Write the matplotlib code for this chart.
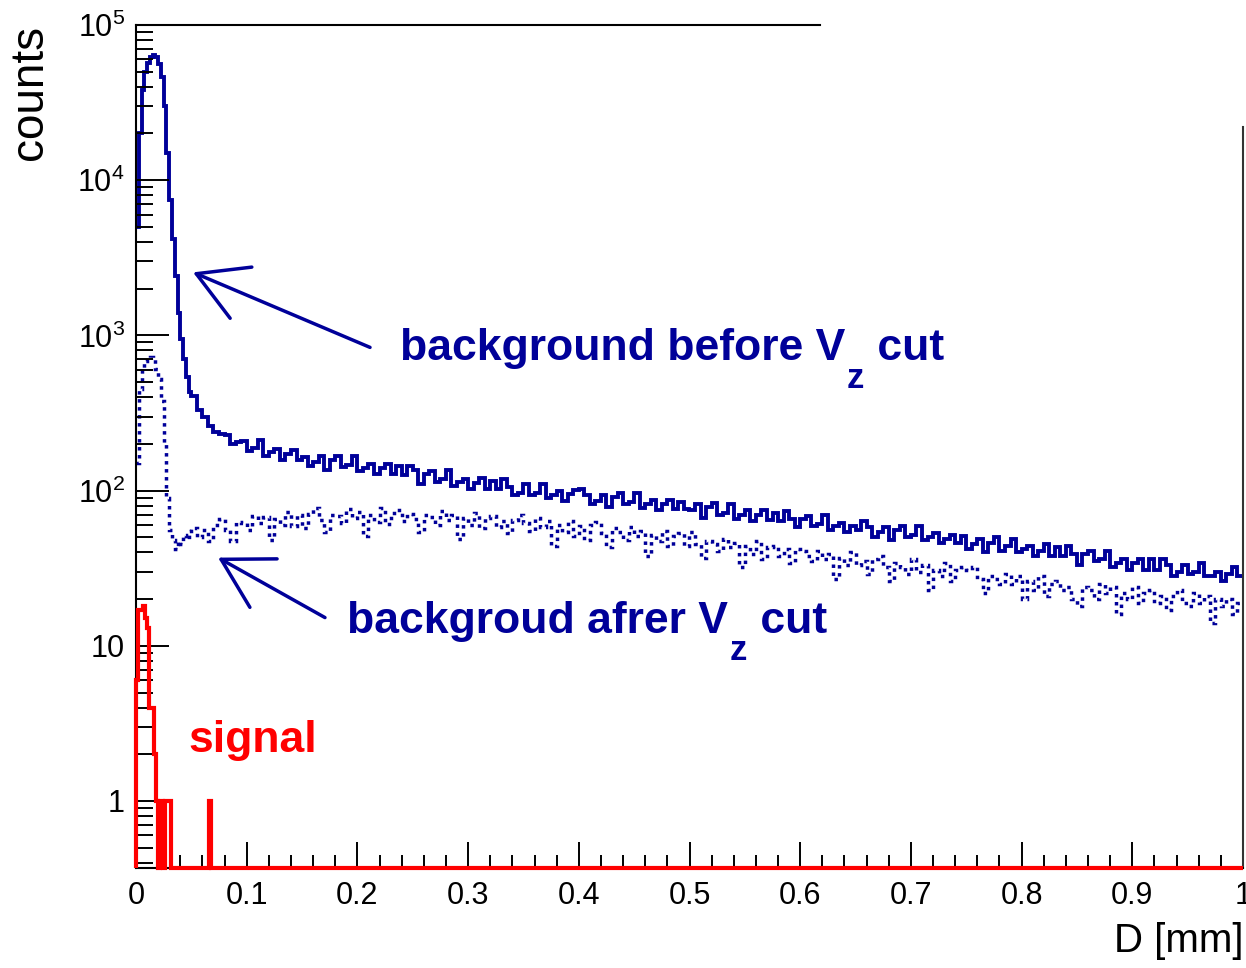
import numpy as np
import matplotlib
matplotlib.use("Agg")
import matplotlib.pyplot as plt
from matplotlib.ticker import MultipleLocator, FixedLocator, FixedFormatter, LogLocator, NullFormatter

plt.rcParams["font.family"] = ["Liberation Sans", "DejaVu Sans"]
plt.rcParams["mathtext.fontset"] = "custom"
plt.rcParams["mathtext.rm"] = "Liberation Sans"
plt.rcParams["mathtext.bf"] = "Liberation Sans:bold"

BLUE = "#000099"
RED = "#ff0000"

# histogram bins: 0.0025 wide up to D=0.05 mm, 0.005 wide after
EDGES_FINE = np.arange(0, 0.05 + 1e-9, 0.0025)
EDGES_COARSE = np.arange(0.055, 1.0 + 1e-9, 0.005)

# background before Vz cut (solid)
bkg_before_fine = [5000, 20000, 38000, 50000, 57000, 62000, 64000, 62000, 56000, 46000,
                   30000, 15000, 7500, 4200, 2400, 1400, 950, 700, 540, 430]
bkg_before = [
    405, 330, 300, 262, 238, 230, 228, 200, 207, 210,
    180, 187, 212, 168, 176, 186, 158, 173, 183, 157,
    165, 144, 152, 166, 136, 158, 166, 141, 147, 166,
    133, 140, 148, 127, 139, 148, 127, 143, 126, 143,
    135, 110, 128, 134, 114, 118, 135, 107, 113, 119,
    102, 112, 120, 103, 116, 103, 118, 106, 93, 97,
    110, 93, 97, 111, 89, 94, 100, 86, 95, 101,
    103, 93, 82, 86, 94, 78, 91, 96, 82, 85,
    97, 77, 82, 87, 75, 82, 87, 76, 85, 76,
    75, 82, 67, 78, 83, 70, 72, 82, 66, 70,
    75, 64, 70, 75, 65, 72, 64, 74, 66, 58,
    66, 69, 59, 61, 70, 56, 59, 62, 54, 59,
    56, 64, 58, 50, 54, 58, 48, 56, 59, 50,
    52, 59, 48, 50, 53, 46, 49, 52, 46, 51,
    42, 45, 49, 40, 46, 50, 41, 44, 49, 40,
    42, 44, 38, 41, 45, 38, 43, 38, 44, 39,
    33, 39, 41, 35, 36, 41, 32, 34, 36, 31,
    34, 36, 31, 36, 31, 36, 33, 28, 30, 33,
    29, 30, 34, 28, 28, 30, 26, 29, 32, 28,
]

# background after Vz cut (dotted)
bkg_after_fine = [150, 450, 620, 680, 710, 730, 700, 610, 520, 380,
                  200, 90, 56, 48, 42, 47, 45, 52, 49, 55]
bkg_after = [
    57, 50, 56, 47, 60, 66, 56, 47, 63, 62,
    56, 69, 62, 68, 48, 66, 60, 73, 59, 70,
    57, 71, 77, 65, 54, 70, 69, 62, 76, 67,
    73, 51, 70, 63, 77, 61, 72, 75, 64, 71,
    66, 54, 70, 68, 60, 74, 65, 70, 49, 67,
    60, 72, 57, 67, 69, 58, 64, 53, 65, 70,
    62, 55, 67, 58, 64, 44, 60, 54, 64, 51,
    59, 48, 60, 63, 53, 43, 57, 54, 48, 58,
    51, 55, 38, 52, 47, 55, 44, 51, 53, 44,
    54, 45, 37, 47, 45, 41, 49, 43, 46, 32,
    44, 39, 47, 36, 43, 44, 38, 42, 34, 42,
    41, 38, 35, 41, 36, 39, 27, 37, 33, 40,
    33, 35, 29, 36, 38, 32, 26, 34, 32, 29,
    36, 30, 33, 23, 31, 28, 34, 26, 31, 32,
    31, 32, 27, 22, 28, 27, 25, 29, 25, 28,
    20, 26, 23, 28, 21, 25, 26, 23, 24, 20,
    18, 24, 23, 20, 25, 22, 24, 16, 22, 20,
    24, 19, 22, 23, 19, 21, 17, 21, 23, 19,
    18, 22, 19, 21, 14, 20, 18, 20, 16, 19,
]

# signal, 0.002 mm bins; only the first bins are filled
SIG_BIN = 0.002
signal_head = [6, 17, 17, 18, 15, 13, 4, 4, 2, 1, 0, 1, 0, 1, 1, 1,
               0, 0, 0, 0, 0, 0, 0, 0, 0, 0, 0, 0, 0, 0, 0, 0, 0, 1]

YTICKS = [1, 10, 1e2, 1e3, 1e4, 1e5]
YTICKLABELS = ["1", "10", r"$10^{2}$", r"$10^{3}$", r"$10^{4}$", r"$10^{5}$"]
YMIN, YMAX = 0.37, 1e5

edges = np.concatenate([EDGES_FINE, EDGES_COARSE])
before = np.array(bkg_before_fine + bkg_before, dtype=float)
after = np.array(bkg_after_fine + bkg_after, dtype=float)
sig_edges = np.arange(0, 1.0 + 1e-9, SIG_BIN)
sig = np.zeros(len(sig_edges) - 1)
sig[:len(signal_head)] = signal_head
sig = np.where(sig > 0, sig, YMIN)

fig = plt.figure(figsize=(12.46, 9.68), dpi=100)
ax = fig.add_axes([136 / 1246, 100 / 968, 1107 / 1246, 843 / 968])
ax.set_yscale("log")
ax.set_xlim(0, 1)
ax.set_ylim(YMIN, YMAX)

ax.stairs(before, edges, baseline=None, color=BLUE, lw=2.8)
ax.stairs(after, edges, baseline=None, color=BLUE, lw=2.5, linestyle=(0, (1, 1.3)))
ax.stairs(sig, sig_edges, baseline=YMIN, color=RED, lw=3.0, clip_on=False, zorder=5)

# ticks, ROOT style (inside)
ax.xaxis.set_major_locator(MultipleLocator(0.1))
ax.xaxis.set_minor_locator(MultipleLocator(0.02))
ax.xaxis.set_major_formatter(plt.FuncFormatter(lambda v, p: f"{v:g}"))
ax.yaxis.set_major_locator(FixedLocator(YTICKS))
ax.yaxis.set_major_formatter(FixedFormatter(YTICKLABELS))
ax.yaxis.set_minor_locator(LogLocator(base=10, subs=np.arange(2, 10), numticks=20))
ax.yaxis.set_minor_formatter(NullFormatter())
ax.tick_params(which="both", direction="in", top=False, right=False, width=1.4,
               labelsize=22, color="black")
ax.tick_params(axis="x", which="major", length=19, pad=9)
ax.tick_params(axis="x", which="minor", length=9.5)
ax.tick_params(axis="y", which="major", length=24, pad=8)
ax.tick_params(axis="y", which="minor", length=12)

for s in ax.spines.values():
    s.set_linewidth(1.5)
ax.spines["top"].set_bounds(0, 0.618)
ax.spines["right"].set_bounds(YMIN, 2.2e4)
ax.spines["right"].set_color("#333333")

ax.set_ylabel("counts", fontsize=33, loc="top")
ax.yaxis.set_label_coords(-0.076, 1.0)
ax.set_xlabel("D [mm]", fontsize=29, loc="right")
ax.xaxis.set_label_coords(1.0, -0.064)

# annotations
arrow = dict(arrowstyle="->,head_length=3.5,head_width=2.0", color=BLUE, lw=2.5,
             shrinkA=0, shrinkB=0, mutation_scale=10)
ax.annotate("", xy=(0.0515, 2548), xytext=(0.2114, 837), arrowprops=arrow)
ax.annotate("", xy=(0.0741, 37), xytext=(0.1707, 15.2), arrowprops=arrow)


def vz_label(x, y, head):
    """'<head> V' + low subscript z + ' cut', ROOT-like placement."""
    kw = dict(color=BLUE, fontweight="bold")
    t1 = ax.text(x, y, head + " V", fontsize=32, va="baseline", ha="left", **kw)
    t2 = ax.annotate("z", xy=(1.0, y), xycoords=(t1, "data"), xytext=(1, -1),
                     textcoords="offset points", fontsize=25, va="top", ha="left", **kw)
    ax.annotate(" cut", xy=(1.0, y), xycoords=(t2, "data"), xytext=(1, 0),
                textcoords="offset points", fontsize=32, va="baseline", ha="left", **kw)


vz_label(0.2385, 690, "background before")
vz_label(0.1906, 12.1, "backgroud afrer")
ax.text(0.047, 2.44, "signal", color=RED, fontsize=32, fontweight="bold",
        va="center", ha="left")

fig.savefig("out.png", dpi=100)
